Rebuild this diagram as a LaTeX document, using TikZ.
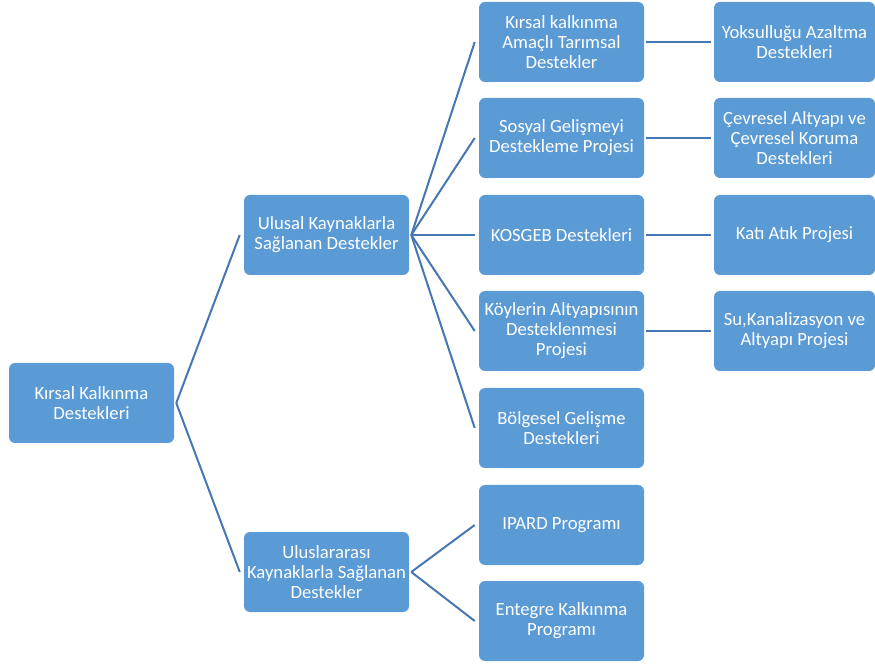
\documentclass[tikz,border=0pt]{standalone}
\usepackage{fontspec}
\setmainfont{Carlito}
\usepackage{xcolor}
\usetikzlibrary{positioning,calc}
\definecolor{Sky}{HTML}{5B9BD5}
\definecolor{Wire}{HTML}{4677B3}
\begin{document}
\begin{tikzpicture}[x=0.75pt,y=-0.75pt,
    box/.style={fill=Sky, draw=none, rounded corners=4.5pt, text=white,
      minimum width=123.75pt, minimum height=60pt, align=center,
      font=\fontsize{14}{15}\selectfont, inner sep=1pt},
    wire/.style={draw=Wire, line width=1.5pt}]
    \useasboundingbox (0,0) rectangle (875,666);
    % left side
    \node[box] (root) at (91.5,403) {Kırsal Kalkınma\\Destekleri};
    \node[box] (ulusal) at (326.5,235) {Ulusal Kaynaklarla\\Sağlanan Destekler};
    \node[box] (intl) at (326.5,572) {Uluslararası\\Kaynaklarla Sağlanan\\Destekler};
    % middle column
    \node[box] (tarim) at (561.5,42) {Kırsal kalkınma\\Amaçlı Tarımsal\\Destekler};
    \node[box] (sosyal) at (561.5,138) {Sosyal Gelişmeyi\\Destekleme Projesi};
    \node[box] (kosgeb) at (561.5,235) {KOSGEB Destekleri};
    \node[box] (koy) at (561.5,331) {Köylerin Altyapısının\\Desteklenmesi\\Projesi};
    \node[box] (bolge) at (561.5,428) {Bölgesel Gelişme\\Destekleri};
    \node[box] (ipard) at (561.5,525) {IPARD Programı};
    \node[box] (entegre) at (561.5,621) {Entegre Kalkınma\\Programı};
    % right column
    \node[box, minimum width=120.75pt] (yoksul) at (794.5,42) {Yoksulluğu Azaltma\\Destekleri};
    \node[box, minimum width=120.75pt] (cevre) at (794.5,138) {Çevresel Altyapı ve\\Çevresel Koruma\\Destekleri};
    \node[box, minimum width=120.75pt] (atik) at (794.5,235) {Katı Atık Projesi};
    \node[box, minimum width=120.75pt] (su) at (794.5,331) {Su,Kanalizasyon ve\\Altyapı Projesi};
    % connectors
    \foreach \kid in {ulusal,intl}
      \draw[wire] ([xshift=1.5pt]root.east) -- ([xshift=-3pt]\kid.west);
    \foreach \kid in {tarim,sosyal,kosgeb,koy,bolge}
      \draw[wire] ([xshift=1.5pt]ulusal.east) -- ([xshift=-3pt]\kid.west);
    \foreach \kid in {ipard,entegre}
      \draw[wire] ([xshift=1.5pt]intl.east) -- ([xshift=-3pt]\kid.west);
    \draw[wire] ([xshift=1pt]tarim.east) -- ([xshift=-2pt]yoksul.west);
    \draw[wire] ([xshift=1pt]sosyal.east) -- ([xshift=-2pt]cevre.west);
    \draw[wire] ([xshift=1pt]kosgeb.east) -- ([xshift=-2pt]atik.west);
    \draw[wire] ([xshift=1pt]koy.east) -- ([xshift=-2pt]su.west);
  \end{tikzpicture}
\end{document}
